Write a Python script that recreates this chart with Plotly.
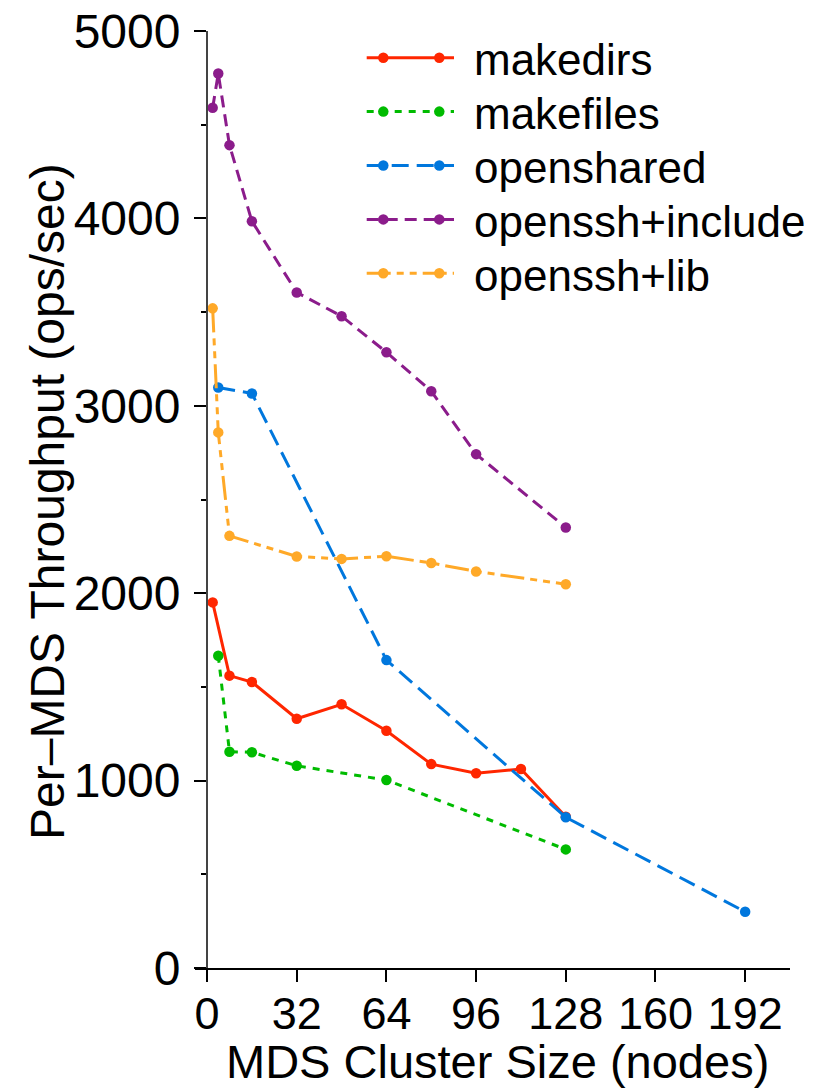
import plotly.graph_objects as go

# ---------------- data ----------------
series_names = ["makedirs", "makefiles", "openshared", "openssh+include", "openssh+lib"]

x_makedirs = [2, 8, 16, 32, 48, 64, 80, 96, 112, 128]
y_makedirs = [1951, 1560, 1526, 1330, 1407, 1266, 1088, 1039, 1062, 807]

x_makefiles = [4, 8, 16, 32, 64, 128]
y_makefiles = [1666, 1154, 1151, 1079, 1003, 633]

x_openshared = [4, 16, 64, 128, 192]
y_openshared = [3098, 3066, 1643, 804, 300]

x_include = [2, 4, 8, 16, 32, 48, 64, 80, 96, 128]
y_include = [4590, 4773, 4391, 3985, 3605, 3478, 3286, 3078, 2742, 2351]

x_lib = [2, 4, 8, 32, 48, 64, 80, 96, 128]
y_lib = [3520, 2858, 2306, 2196, 2183, 2197, 2161, 2116, 2048]

x_tickvals = [0, 32, 64, 96, 128, 160, 192]
y_tickvals = [0, 1000, 2000, 3000, 4000, 5000]

x_title = "MDS Cluster Size (nodes)"
y_title = "Per\u2013MDS Throughput (ops/sec)"

# ---------------- styles ----------------
FONT = "Liberation Sans, Arial, Helvetica, sans-serif"
colors = ["#ff2600", "#00bb00", "#0077dd", "#8b1c8b", "#ffa928"]
dashes = ["solid", "7px,7px", "17px,8px", "12px,7px", "24px,6px,7px,6px,7px,6px"]
LW = 3
MS = 10.5

W, H = 814, 1091
ML, MR, MT, MB = 195, 24, 31, 123
XMIN, XMAX = -4.3, 208.0
YMIN, YMAX = 0, 5000
ypos = (0 - XMIN) / (XMAX - XMIN)

xs = [x_makedirs, x_makefiles, x_openshared, x_include, x_lib]
ys = [y_makedirs, y_makefiles, y_openshared, y_include, y_lib]

fig = go.Figure()
for name, xv, yv, c, d in zip(series_names, xs, ys, colors, dashes):
    fig.add_trace(go.Scatter(
        x=xv, y=yv, name=name, mode="lines+markers",
        line=dict(color=c, width=LW, dash=d),
        marker=dict(color=c, size=MS),
        showlegend=False, cliponaxis=False,
    ))

# ---- legend drawn on an overlay pixel-space axis (two markers per sample) ----
LEG_X0, LEG_X1 = 366.7, 454.0
LEG_M0, LEG_M1 = 383.3, 439.3
LEG_TEXT_X = 472
LEG_Y0, LEG_DY = 57.7, 53.9
for i, (name, c, d) in enumerate(zip(series_names, colors, dashes)):
    yy = LEG_Y0 + i * LEG_DY
    fig.add_trace(go.Scatter(
        x=[LEG_X0, LEG_X1], y=[yy, yy], mode="lines", xaxis="x2", yaxis="y2",
        line=dict(color=c, width=LW, dash=d), showlegend=False, hoverinfo="skip",
    ))
    fig.add_trace(go.Scatter(
        x=[LEG_M0, LEG_M1], y=[yy, yy], mode="markers", xaxis="x2", yaxis="y2",
        marker=dict(color=c, size=MS), showlegend=False, hoverinfo="skip",
    ))
    fig.add_annotation(
        x=LEG_TEXT_X, y=yy + 2, xref="x2", yref="y2", text=name,
        showarrow=False, xanchor="left", yanchor="middle",
        font=dict(family=FONT, size=44, color="black"),
    )

pw = W - ML - MR
ph = H - MT - MB
# axis titles
fig.add_annotation(
    x=(47 - ML) / pw, y=(H - MB - 502) / ph, xref="paper", yref="paper",
    text=y_title, textangle=-90, showarrow=False,
    xanchor="center", yanchor="middle",
    font=dict(family=FONT, size=48, color="black"),
)
fig.add_annotation(
    x=(497 - ML) / pw, y=(H - MB - 1061) / ph, xref="paper", yref="paper",
    text=x_title, showarrow=False, xanchor="center", yanchor="middle",
    font=dict(family=FONT, size=47, color="black"),
)

fig.update_layout(
    width=W, height=H,
    margin=dict(l=ML, r=MR, t=MT, b=MB, pad=0),
    paper_bgcolor="white", plot_bgcolor="white",
    font=dict(family=FONT, size=48, color="black"),
    xaxis=dict(
        range=[XMIN, XMAX], tickvals=x_tickvals, ticktext=[str(v) for v in x_tickvals],
        showline=True, linecolor="black", linewidth=2,
        ticks="outside", ticklen=12, tickwidth=1.5, tickcolor="black",
        ticklabelstandoff=-7,
        showgrid=False, zeroline=False, automargin=False,
        tickfont=dict(family=FONT, size=45, color="black"),
    ),
    yaxis=dict(
        range=[YMIN, YMAX], tickvals=y_tickvals, ticktext=[str(v) for v in y_tickvals],
        anchor="free", position=ypos,
        showline=True, linecolor="#444444", linewidth=2,
        ticks="outside", ticklen=12, tickwidth=1.5, tickcolor="black",
        ticklabelstandoff=4,
        minor=dict(dtick=500, ticks="outside", ticklen=5, tickwidth=1.5, tickcolor="black", showgrid=False),
        showgrid=False, zeroline=False, automargin=False,
        tickfont=dict(family=FONT, size=48, color="black"),
    ),
    xaxis2=dict(domain=[0, 1], range=[ML, W - MR], visible=False, overlaying="x",
                anchor="y2", fixedrange=True),
    yaxis2=dict(domain=[0, 1], range=[H - MB, MT], visible=False, overlaying="y",
                anchor="x2", fixedrange=True),
    showlegend=False,
)

fig.write_html("out.html")
